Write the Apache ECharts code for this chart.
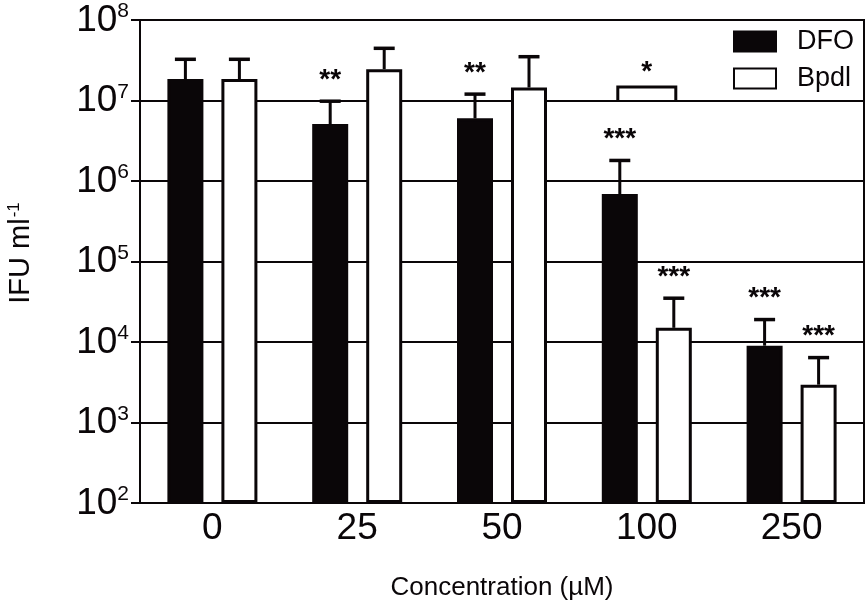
<!DOCTYPE html>
<html><head><meta charset="utf-8">
<script src="https://cdn.jsdelivr.net/npm/echarts@6/dist/echarts.min.js"></script>
<style>html,body{margin:0;padding:0;background:#fff}#c{width:866px;height:606px}</style>
</head><body><div id="c"></div>
<script>
// ---- data ----
const categories = ['0', '25', '50', '100', '250'];
const dfoMean  = [1.85e7, 5.1e6, 6.0e6, 6.9e5, 9.0e3];
const dfoUpper = [3.25e7, 9.8e6, 1.2e7, 1.8e6, 1.9e4];
const bpdlMean  = [1.85e7, 2.45e7, 1.45e7, 1.5e4, 2.95e3];
const bpdlUpper = [3.25e7, 4.45e7, 3.5e7, 3.5e4, 6.4e3];
const dfoStars  = ['', '**', '**', '***', '***'];
const bpdlStars = ['', '', '', '***', '***'];
const bracketCategory = [3];
const bracketBase = [1.0e7];
const bracketTop = [1.47e7];
const bracketStars = ['*'];
const yTickExponents = [2, 3, 4, 5, 6, 7, 8];
const seriesNames = ['DFO', 'Bpdl'];
const xAxisName = 'Concentration (µM)';

// ---- style ----
const FONT = '"Liberation Sans", Arial, Helvetica, sans-serif';
const BLACK = '#0a0608';
const OFFSET = 27;

function errRenderer(stars, side) {
  return function (params, api) {
    const i = params.dataIndex;
    const base = api.coord([api.value(0), api.value(1)]);
    const top = api.coord([api.value(0), api.value(2)]);
    const x = base[0] + side * OFFSET;
    const children = [
      { type: 'line', shape: { x1: x, y1: base[1], x2: x, y2: top[1] }, style: { stroke: BLACK, lineWidth: 3 } },
      { type: 'line', shape: { x1: x - 10.5, y1: top[1], x2: x + 10.5, y2: top[1] }, style: { stroke: BLACK, lineWidth: 3.5 } }
    ];
    if (stars[i]) {
      children.push({ type: 'text', style: { text: stars[i], x: x, y: top[1] - 21, align: 'center', verticalAlign: 'middle', font: 'bold 28px ' + FONT, fill: BLACK } });
    }
    return { type: 'group', children: children };
  };
}

function bracketRenderer(params, api) {
  const i = params.dataIndex;
  const b = api.coord([api.value(0), api.value(1)]);
  const t = api.coord([api.value(0), api.value(2)]);
  const x1 = b[0] - 29, x2 = b[0] + 29;
  return {
    type: 'group',
    children: [
      { type: 'polyline', shape: { points: [[x1, b[1]], [x1, t[1]], [x2, t[1]], [x2, b[1]]] }, style: { stroke: BLACK, lineWidth: 3, fill: null } },
      { type: 'text', style: { text: bracketStars[i], x: b[0], y: t[1] - 15, align: 'center', verticalAlign: 'middle', font: 'bold 28px ' + FONT, fill: BLACK } }
    ]
  };
}

const chart = echarts.init(document.getElementById('c'));
chart.setOption({
  animation: false,
  backgroundColor: '#fff',
  textStyle: { fontFamily: FONT, color: BLACK },
  grid: { left: 140, right: 2, top: 20, bottom: 103, containLabel: false, outerBoundsMode: 'none', show: true, borderColor: BLACK, borderWidth: 2, backgroundColor: 'transparent' },
  legend: {
    data: seriesNames,
    orient: 'vertical',
    left: 728, top: 23,
    padding: 5,
    itemWidth: 42, itemHeight: 20, itemGap: 10,
    icon: 'rect',
    textStyle: { fontSize: 27, color: BLACK, fontFamily: FONT, padding: [0, 0, 0, 16] }
  },
  xAxis: {
    type: 'category',
    data: categories,
    name: xAxisName,
    nameLocation: 'middle',
    nameGap: 72,
    nameTextStyle: { fontSize: 26, color: BLACK, fontFamily: FONT },
    axisLine: { lineStyle: { color: BLACK, width: 2 } },
    axisTick: { show: false },
    axisLabel: { fontSize: 37, color: BLACK, margin: 7, fontFamily: FONT },
    splitLine: { show: false }
  },
  yAxis: {
    type: 'log',
    logBase: 10,
    min: Math.pow(10, yTickExponents[0]),
    max: Math.pow(10, yTickExponents[yTickExponents.length - 1]),
    splitNumber: yTickExponents.length - 1,
    startValue: Math.pow(10, yTickExponents[0]),
    name: '{a|IFU ml}{s|-1}',
    nameLocation: 'middle',
    nameGap: 105,
    nameTextStyle: {
      color: BLACK, fontFamily: FONT, padding: [0, 0, 0, 17],
      rich: {
        a: { fontSize: 29, fontFamily: FONT, color: BLACK, verticalAlign: 'bottom' },
        s: { fontSize: 17, fontFamily: FONT, color: BLACK, verticalAlign: 'top', padding: [0, 0, 0, 1] }
      }
    },
    axisLine: { show: true, lineStyle: { color: BLACK, width: 2 } },
    axisTick: { show: true, length: 9, lineStyle: { color: BLACK, width: 2 } },
    axisLabel: {
      margin: 11,
      formatter: function (v) {
        const e = Math.round(Math.log10(v));
        return '{b|10}{s|' + e + '}';
      },
      rich: {
        b: { fontSize: 37, fontFamily: FONT, color: BLACK, lineHeight: 38, verticalAlign: 'bottom', padding: [4, 0, 0, 0] },
        s: { fontSize: 21, fontFamily: FONT, color: BLACK, verticalAlign: 'top', padding: [0, 0, 0, 0] }
      }
    },
    splitLine: { show: true, lineStyle: { color: BLACK, width: 1.8 } },
    minorTick: { show: false }
  },
  series: [
    {
      name: seriesNames[0], type: 'bar', data: dfoMean,
      barWidth: 36, barGap: '50%', clip: true,
      itemStyle: { color: BLACK, borderColor: BLACK, borderWidth: 3 }
    },
    {
      name: seriesNames[1], type: 'bar', data: bpdlMean,
      barWidth: 36, barGap: '50%', clip: true,
      itemStyle: { color: '#fff', borderColor: BLACK, borderWidth: 3 }
    },
    {
      type: 'custom', renderItem: errRenderer(dfoStars, -1), z: 5,
      data: dfoMean.map((v, i) => [i, v, dfoUpper[i]])
    },
    {
      type: 'custom', renderItem: errRenderer(bpdlStars, 1), z: 5,
      data: bpdlMean.map((v, i) => [i, v, bpdlUpper[i]])
    },
    {
      type: 'custom', renderItem: bracketRenderer, z: 5,
      data: bracketCategory.map((c, i) => [c, bracketBase[i], bracketTop[i]])
    }
  ]
});
</script>
</body></html>
